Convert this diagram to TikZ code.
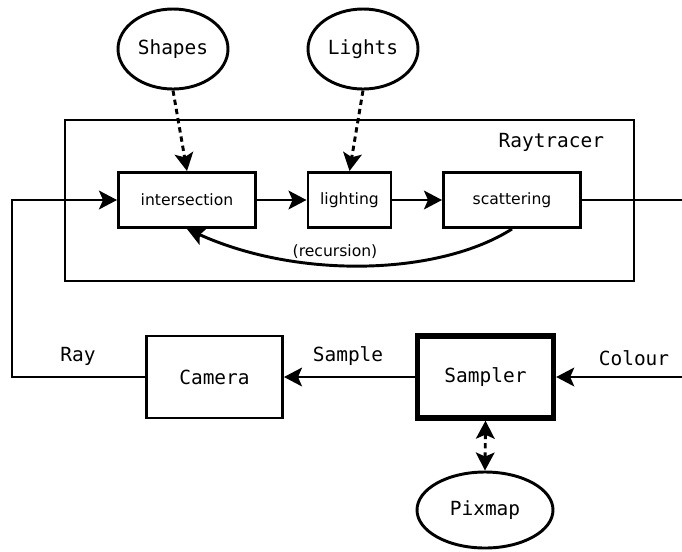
\documentclass[tikz,border=0pt]{standalone}
\usepackage{fontspec}
\setmainfont{DejaVu Sans}
\setmonofont{DejaVu Sans Mono}
\usetikzlibrary{shapes.geometric,arrows.meta}

\begin{document}
\begin{tikzpicture}[x=0.75pt,y=-0.75pt,line width=2.2pt,
    mono/.style={font=\ttfamily\fontsize{14.6}{17}\selectfont},
    stage/.style={draw,rectangle,inner sep=0pt,minimum height=41.25pt,
      font=\fontsize{11.7}{14}\selectfont},
    part/.style={draw,rectangle,inner sep=0pt,minimum width=102pt,
      minimum height=61.5pt,mono},
    store/.style={draw,ellipse,inner sep=0pt,mono},
    flow/.style={-{Stealth[length=13.5pt,width=14pt,inset=3pt]}},
    feed/.style={flow,dash pattern=on 4pt off 3pt}]

    \useasboundingbox (0,0) rectangle (682,551);

    % the tracer and its three stages
    \node[draw,rectangle,inner sep=0pt,minimum width=426.75pt,
      minimum height=120.75pt] (tracer) at (349.5,200.5) {};
    \node[mono,anchor=east] (tracerlbl) at (610,142) {Raytracer};

    \node[stage,minimum width=102.75pt] (isect) at (187,200) {intersection};
    \node[stage,minimum width=62.25pt] (lighting) at (349.5,200) {lighting};
    \node[stage,minimum width=102.75pt] (scatter) at (512,200) {scattering};

    \node[store,minimum width=82.5pt,minimum height=60pt] (shapes) at (173,49) {Shapes};
    \node[store,minimum width=82.5pt,minimum height=60pt] (lights) at (363,49) {Lights};

    % camera and sampler below
    \node[part] (camera) at (214.5,377) {Camera};
    \node[part,line width=4pt] (sampler) at (485.5,377) {Sampler};
    \node[store,minimum width=102pt,minimum height=57pt] (pixmap) at (485,510) {Pixmap};

    \coordinate (rayturn) at (12,377);
    \coordinate (rayout) at (682,200);
    \coordinate (colin) at (682,377);

    \draw[feed] (shapes.south) -- (isect.north);
    \draw[feed] (lights.south) -- (lighting.north);

    \draw[flow] (isect) -- (lighting);
    \draw[flow] (lighting) -- (scatter);
    \draw (scatter.east) -- (rayout);

    \draw[flow] (scatter.south) .. controls (440,275) and (300,280) .. (isect.south);
    \node (reclbl) at (335,252) {\fontsize{11.7}{14}\selectfont(recursion)};

    \draw[flow] (camera.west) -- (rayturn) |- (isect.west);
    \node[mono] (raylbl) at (78,356) {Ray};

    \draw[flow] (sampler.west) -- (camera.east);
    \node[mono] (samplbl) at (348,356) {Sample};

    \draw[flow] (colin) -- (sampler.east);
    \node[mono] (collbl) at (634,358) {Colour};

    \draw[feed,{Stealth[length=13.5pt,width=14pt,inset=3pt]}-{Stealth[length=13.5pt,width=14pt,inset=3pt]}]
      (sampler.south) -- (pixmap.north);

\end{tikzpicture}
\end{document}
